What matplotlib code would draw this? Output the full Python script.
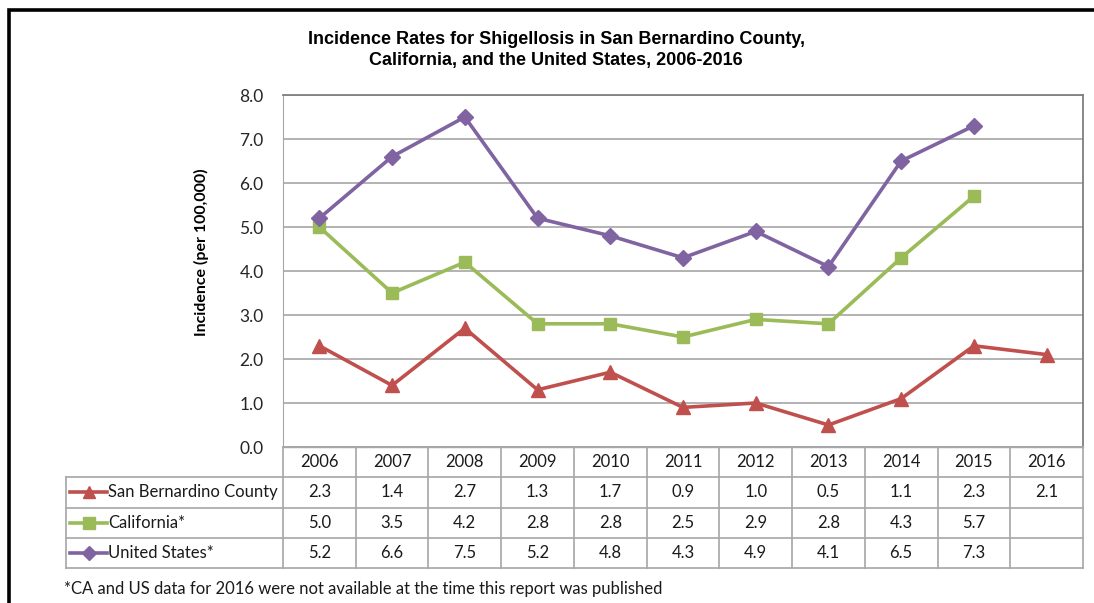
import matplotlib
matplotlib.use("Agg")
import matplotlib.pyplot as plt
from matplotlib.patches import Rectangle

years = ["2006", "2007", "2008", "2009", "2010", "2011", "2012", "2013", "2014", "2015", "2016"]
sb_county = [2.3, 1.4, 2.7, 1.3, 1.7, 0.9, 1.0, 0.5, 1.1, 2.3, 2.1]
california = [5.0, 3.5, 4.2, 2.8, 2.8, 2.5, 2.9, 2.8, 4.3, 5.7, None]
united_states = [5.2, 6.6, 7.5, 5.2, 4.8, 4.3, 4.9, 4.1, 6.5, 7.3, None]
series_names = ["San Bernardino County", "California*", "United States*"]
y_ticks = [0.0, 1.0, 2.0, 3.0, 4.0, 5.0, 6.0, 7.0, 8.0]

colors = ["#C0504D", "#9BBB59", "#8064A2"]
markers = ["^", "s", "D"]
msizes = [10, 9, 8]
series = [sb_county, california, united_states]

W, H = 1094, 603
fig = plt.figure(figsize=(W / 100, H / 100), dpi=100)
fig.patch.set_facecolor("white")

BODY = "Lato"
GRID = "#A6A6A6"
FS = 12


def fx(px):
    return px / W


def fy(py):
    return 1 - py / H


# outer frame
fig.patches.append(Rectangle((fx(8.5), fy(650)), fx(1200), fy(9.5) - fy(650),
                             transform=fig.transFigure, fill=False,
                             edgecolor="black", linewidth=2.6, zorder=0))

# plot area
left, right, top, bottom = 283, 1083, 95, 447
ax = fig.add_axes([fx(left), fy(bottom), fx(right - left), fy(top) - fy(bottom)])
n = len(years)
ax.set_xlim(-0.5, n - 0.5)
ax.set_ylim(0, 8)
ax.set_yticks(y_ticks)
ax.set_yticklabels([f"{v:.1f}" for v in y_ticks], fontfamily=BODY, fontsize=12.5, color="#262626")
ax.set_xticks([])
ax.tick_params(axis="y", length=0, pad=14)
ax.grid(axis="y", color=GRID, linewidth=1.2)
ax.set_axisbelow(True)
for s in ["top", "right"]:
    ax.spines[s].set_color("#7F7F7F")
    ax.spines[s].set_linewidth(1.3)
ax.spines["left"].set_color(GRID)
ax.spines["bottom"].set_color(GRID)
ax.spines["bottom"].set_linewidth(1.0)

for vals, c, m, ms in zip(series, colors, markers, msizes):
    xs = [i for i, v in enumerate(vals) if v is not None]
    ys = [v for v in vals if v is not None]
    ax.plot(xs, ys, color=c, linewidth=2.6, marker=m, markersize=ms,
            markerfacecolor=c, markeredgecolor=c, clip_on=False, zorder=3)

ax.set_ylabel("Incidence (per 100,000)", fontfamily=BODY, fontweight="bold", fontsize=11.5)
ax.yaxis.set_label_coords((209 - left) / (right - left), (bottom - 252) / (bottom - top))

fig.text(fx(556), fy(40), "Incidence Rates for Shigellosis in San Bernardino County,",
         ha="center", va="center", fontfamily="Liberation Sans", fontweight="bold", fontsize=13)
fig.text(fx(556), fy(61), "California, and the United States, 2006-2016",
         ha="center", va="center", fontfamily="Liberation Sans", fontweight="bold", fontsize=13)

# data table
t_top, t_bot = 447, 568
tab = fig.add_axes([fx(left), fy(t_bot), fx(right - left), fy(t_top) - fy(t_bot)])
tab.set_xlim(-0.5, n - 0.5)
tab.set_ylim(4, 0)
tab.axis("off")
unit = (right - left) / n
lab_left = (66 - left) / unit - 0.5

lw = 1.2
tab.plot([-0.5, n - 0.5], [0, 0], color=GRID, lw=lw, clip_on=False)
for r in range(1, 5):
    tab.plot([lab_left, n - 0.5], [r, r], color=GRID, lw=lw, clip_on=False)
for i in range(n + 1):
    tab.plot([i - 0.5, i - 0.5], [0, 4], color=GRID, lw=lw, clip_on=False)
tab.plot([lab_left, lab_left], [1, 4], color=GRID, lw=lw, clip_on=False)

tkw = dict(ha="center", va="center", fontfamily=BODY, fontsize=FS, color="#1a1a1a")
for i, yr in enumerate(years):
    tab.text(i, 0.5, yr, **tkw)
for r, (vals, name, c, m, ms) in enumerate(zip(series, series_names, colors, markers, msizes)):
    yrow = r + 1.5
    for i, v in enumerate(vals):
        if v is not None:
            tab.text(i, yrow, f"{v:.1f}", **tkw)
    kx0 = lab_left + 4 / unit
    kx1 = lab_left + 41 / unit
    tab.plot([kx0, kx1], [yrow, yrow], color=c, lw=2.6, clip_on=False)
    tab.plot([(kx0 + kx1) / 2], [yrow], color=c, marker=m, markersize=ms - 1, clip_on=False)
    tab.text(kx1 + 1 / unit, yrow, name, ha="left", va="center", fontfamily=BODY,
             fontsize=FS, color="#1a1a1a")

fig.text(fx(64), fy(589), "*CA and US data for 2016 were not available at the time this report was published",
         ha="left", va="center", fontfamily=BODY, fontsize=12, color="#1a1a1a")

fig.savefig("out.png", dpi=100)
